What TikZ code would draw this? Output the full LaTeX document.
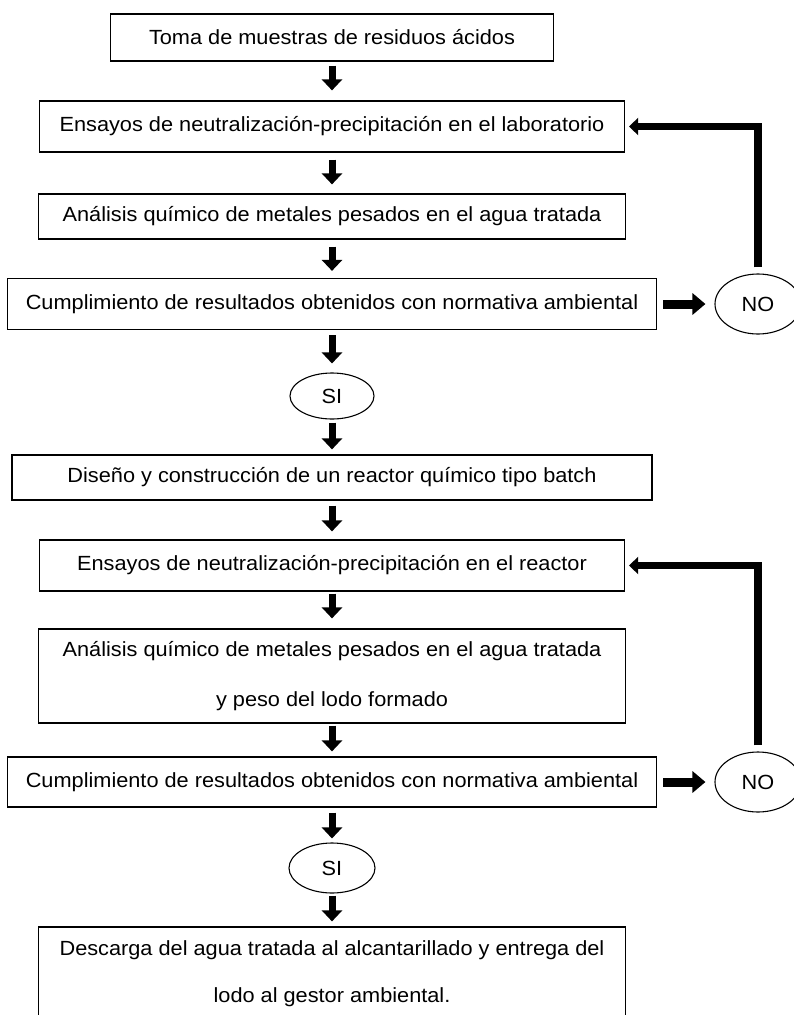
\documentclass[tikz,border=0pt]{standalone}
\usepackage{fontspec}
\setmainfont[FakeStretch=1.06]{Liberation Sans}
\usetikzlibrary{arrows.meta,shapes.geometric}
\begin{document}
\begin{tikzpicture}[x=1pt,y=-1pt,
  box/.style={draw, line width=1.2pt, rectangle, inner sep=0pt, align=center,
              font=\fontsize{20.5}{24}\selectfont},
  oval/.style={draw, line width=1.1pt, ellipse, inner sep=0pt,
              font=\fontsize{20.5}{24}\selectfont},
  darr/.style={line width=7pt, -{Triangle[width=20pt,length=11pt]}},
  harr/.style={line width=9pt, -{Triangle[width=21pt,length=13pt]}, shorten <=6pt, shorten >=9pt},
  larr/.style={line width=7.5pt, -{Triangle[width=17pt,length=9pt]}, shorten <=6pt, shorten >=4pt}]
\useasboundingbox (0,0) rectangle (794,1015);

\node[box, minimum width=443pt, minimum height=47pt] (b1) at (332,37.5) {Toma de muestras de residuos ácidos};
\node[box, minimum width=585pt, minimum height=51pt] (b2) at (332,126.5) {Ensayos de neutralización-precipitación en el laboratorio};
\node[box, minimum width=587pt, minimum height=45pt] (b3) at (332,216.5) {Análisis químico de metales pesados en el agua tratada};
\node[box, minimum width=649pt, minimum height=51pt] (b4) at (332,304) {Cumplimiento de resultados obtenidos con normativa ambiental};
\node[oval, minimum width=86pt, minimum height=60pt] (no1) at (758,304) {NO};
\node[oval, minimum width=84pt, minimum height=46pt] (si1) at (332,396) {SI};
\node[box, minimum width=640pt, minimum height=45pt] (b5) at (332,477.5) {Diseño y construcción de un reactor químico tipo batch};
\node[box, minimum width=585pt, minimum height=51pt] (b6) at (332,565.5) {Ensayos de neutralización-precipitación en el reactor};
\node[box, minimum width=587pt, minimum height=94pt] (b7) at (332,676) {Análisis químico de metales pesados en el agua tratada\\[26pt]y peso del lodo formado};
\node[box, minimum width=649pt, minimum height=50pt] (b8) at (332,782) {Cumplimiento de resultados obtenidos con normativa ambiental};
\node[oval, minimum width=86pt, minimum height=60pt] (no2) at (758,782) {NO};
\node[oval, minimum width=86pt, minimum height=50pt] (si2) at (332,868) {SI};
\node[box, minimum width=587pt, minimum height=93pt] (b9) at (332,973.5) {Descarga del agua tratada al alcantarillado y entrega del\\[23pt]lodo al gestor ambiental.};

\draw[darr, shorten <=4pt, shorten >=10pt] (b1) -- (b2);
\draw[darr, shorten <=7pt, shorten >=9pt] (b2) -- (b3);
\draw[darr, shorten <=7pt, shorten >=7pt] (b3) -- (b4);
\draw[darr, shorten <=5pt, shorten >=9pt] (b4) -- (si1);
\draw[darr, shorten <=3pt, shorten >=5pt] (si1) -- (b5);
\draw[darr, shorten <=5pt, shorten >=8pt] (b5) -- (b6);
\draw[darr, shorten <=2pt, shorten >=10pt] (b6) -- (b7);
\draw[darr, shorten <=2pt, shorten >=5pt] (b7) -- (b8);
\draw[darr, shorten <=5pt, shorten >=4pt] (b8) -- (si2);
\draw[darr, shorten <=2pt, shorten >=5pt] (si2) -- (b9);

\draw[harr] (b4) -- (no1);
\draw[harr] (b8) -- (no2);

\draw[larr] (no1.north) |- (b2.east);
\draw[larr] (no2.north) |- (b6.east);
\end{tikzpicture}
\end{document}
